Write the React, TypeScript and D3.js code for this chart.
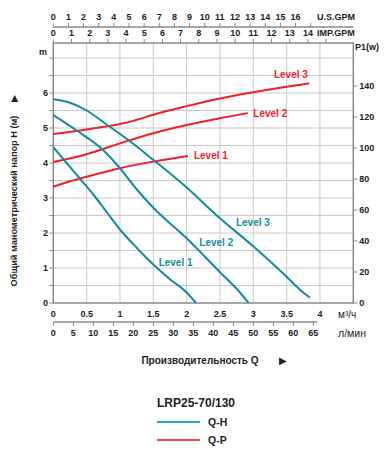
import React from "react";
import * as d3 from "d3";

// Flow Q in m³/h, head H in m
const qhLevel1: [number, number][] = [[0, 4.45], [0.2, 4.0], [0.4, 3.55], [0.6, 3.1], [0.8, 2.6], [1.0, 2.1], [1.25, 1.58], [1.5, 1.1], [1.75, 0.68], [2.0, 0.3], [2.14, 0]];
const qhLevel2: [number, number][] = [[0, 5.37], [0.35, 4.93], [0.73, 4.4], [1.0, 3.85], [1.25, 3.25], [1.5, 2.72], [2.0, 1.85], [2.5, 0.88], [2.8, 0.3], [2.93, 0]];
const qhLevel3: [number, number][] = [[0, 5.82], [0.25, 5.72], [0.5, 5.5], [0.8, 5.1], [1.15, 4.62], [1.5, 4.09], [2.0, 3.3], [2.5, 2.42], [3.0, 1.62], [3.5, 0.75], [3.7, 0.38], [3.85, 0.15]];
// Flow Q in m³/h, power P1 in W
const qpLevel1: [number, number][] = [[0, 75], [0.25, 78.5], [0.5, 81.5], [1.0, 87], [1.5, 91.2], [2.02, 94.8]];
const qpLevel2: [number, number][] = [[0, 91], [0.5, 96], [1.0, 103], [1.5, 109.5], [2.0, 114.8], [2.5, 119.2], [2.92, 122.5]];
const qpLevel3: [number, number][] = [[0, 109], [0.5, 112], [1.0, 115.5], [1.2, 117.5], [1.5, 121.5], [2.0, 127], [2.5, 132], [3.0, 136], [3.5, 139.5], [3.84, 141.7]];

const qTicks = [0, 0.5, 1, 1.5, 2, 2.5, 3, 3.5, 4];
const lminTicks = [0, 5, 10, 15, 20, 25, 30, 35, 40, 45, 50, 55, 60, 65];
const usGpmTicks = [0, 1, 2, 3, 4, 5, 6, 7, 8, 9, 10, 11, 12, 13, 14, 15, 16, 17];
const impGpmTicks = [0, 1, 2, 3, 4, 5, 6, 7, 8, 9, 10, 11, 12, 13, 14, 15];
const hTicks = [0, 1, 2, 3, 4, 5, 6];
const hGrid = [0.5, 1, 1.5, 2, 2.5, 3, 3.5, 4, 4.5, 5, 5.5, 6, 6.5, 7];
const pTicks = [0, 20, 40, 60, 80, 100, 120, 140];

const levelNames = ["Level 1", "Level 2", "Level 3"];
// label anchor positions (Q, value)
const qhLabelPos: [number, number][] = [[1.58, 1.17], [2.19, 1.73], [2.74, 2.31]];
const qpLabelPos: [number, number][] = [[2.11, 95], [3.0, 122.4], [3.31, 147.7]];

const US_GPM = 0.22712; // m³/h
const IMP_GPM = 0.27277; // m³/h
const L_MIN = 0.06; // m³/h

const TEAL = "#138c9e";
const RED = "#f41c28";
const FONT = "'Liberation Sans', Arial, sans-serif";
const TXT = "#222";

export default function App() {
  const L = 53.3, R = 353.3, T = 43, B = 303;
  const x = d3.scaleLinear().domain([0, 4.5]).range([L, R]);
  const yH = d3.scaleLinear().domain([0, (B - T) / 35]).range([B, T]);
  const yP = d3.scaleLinear().domain([0, (B - T) / 1.55]).range([B, T]);

  const lineH = d3.line<[number, number]>().x(d => x(d[0])).y(d => yH(d[1])).curve(d3.curveMonotoneX);
  const lineP = d3.line<[number, number]>().x(d => x(d[0])).y(d => yP(d[1])).curve(d3.curveMonotoneX);

  const qh = [qhLevel1, qhLevel2, qhLevel3];
  const qp = [qpLevel1, qpLevel2, qpLevel3];
  const usY = 27;
  const lminY = 322;

  return (
    <svg width={392} height={450} style={{ position: "absolute", left: 0, top: 0, background: "#fff" }} fontFamily={FONT}>
      {/* grid */}
      {qTicks.filter(q => q > 0).map(q => (
        <line key={"vg" + q} x1={x(q)} x2={x(q)} y1={T} y2={B} stroke="#c9c9c9" strokeWidth={1} />
      ))}
      {hGrid.map(h => (
        <line key={"hg" + h} x1={L} x2={R} y1={yH(h)} y2={yH(h)} stroke="#c9c9c9" strokeWidth={1} />
      ))}
      {/* frame */}
      <rect x={L} y={T} width={R - L} height={B - T} fill="none" stroke="#8a8a8a" strokeWidth={1.5} />

      {/* left axis ticks */}
      {[0, ...hGrid].map(h => (
        <line key={"lt" + h} x1={L - 4} x2={L} y1={yH(h)} y2={yH(h)} stroke="#8a8a8a" strokeWidth={1} />
      ))}
      {hTicks.map(h => (
        <text key={"ll" + h} x={48} y={yH(h)} dy="0.35em" textAnchor="end" fontSize={9} fontWeight="bold" fill={TXT}>{h}</text>
      ))}
      <text x={43} y={52} dy="0.35em" textAnchor="middle" fontSize={9} fontWeight="bold" fill={TXT}>m</text>

      {/* right axis */}
      {pTicks.map(p => (
        <g key={"rp" + p}>
          <line x1={R} x2={R + 4} y1={yP(p)} y2={yP(p)} stroke="#8a8a8a" strokeWidth={1} />
          <text x={R + 6} y={yP(p)} dy="0.35em" fontSize={9} fontWeight="bold" fill={TXT}>{p}</text>
        </g>
      ))}
      <text x={355} y={47} dy="0.35em" fontSize={9} fontWeight="bold" fill={TXT}>P1(w)</text>

      {/* bottom m3/h axis */}
      {qTicks.map(q => (
        <text key={"bq" + q} x={x(q)} y={314} dy="0.35em" textAnchor="middle" fontSize={9} fontWeight="bold" fill={TXT}>{q}</text>
      ))}
      <text x={338} y={314} dy="0.35em" fontSize={10} fill={TXT}>м³/ч</text>

      {/* l/min axis */}
      <line x1={x(0)} x2={x(66 * L_MIN)} y1={lminY} y2={lminY} stroke="#8a8a8a" strokeWidth={1.3} />
      {lminTicks.map(v => (
        <g key={"lm" + v}>
          <line x1={x(v * L_MIN)} x2={x(v * L_MIN)} y1={lminY} y2={lminY + 4} stroke="#8a8a8a" strokeWidth={1} />
          <text x={x(v * L_MIN)} y={333} dy="0.35em" textAnchor="middle" fontSize={9} fontWeight="bold" fill={TXT}>{v}</text>
        </g>
      ))}
      <text x={338} y={333} dy="0.35em" fontSize={10.5} fill={TXT}>л/мин</text>

      {/* US GPM axis */}
      <line x1={L} x2={R} y1={usY} y2={usY} stroke="#8a8a8a" strokeWidth={1.3} />
      {usGpmTicks.map(v => (
        <g key={"us" + v}>
          <line x1={x(v * US_GPM)} x2={x(v * US_GPM)} y1={usY - 4} y2={usY} stroke="#8a8a8a" strokeWidth={1} />
          {v <= 16 && (
            <text x={x(v * US_GPM)} y={17} dy="0.35em" textAnchor="middle" fontSize={9} fontWeight="bold" fill={TXT}>{v}</text>
          )}
        </g>
      ))}
      <text x={317} y={17} dy="0.35em" fontSize={9} fontWeight="bold" fill={TXT}>U.S.GPM</text>

      {/* IMP GPM axis */}
      {impGpmTicks.map(v => (
        <g key={"imp" + v}>
          <line x1={x(v * IMP_GPM)} x2={x(v * IMP_GPM)} y1={T - 4} y2={T} stroke="#8a8a8a" strokeWidth={1} />
          {v <= 14 && (
            <text x={x(v * IMP_GPM)} y={33} dy="0.35em" textAnchor="middle" fontSize={9} fontWeight="bold" fill={TXT}>{v}</text>
          )}
        </g>
      ))}
      <text x={317} y={33} dy="0.35em" fontSize={9} fontWeight="bold" fill={TXT}>IMP.GPM</text>

      {/* curves */}
      {qp.map((d, i) => (
        <path key={"qp" + i} d={lineP(d) || ""} fill="none" stroke={RED} strokeWidth={2} />
      ))}
      {qh.map((d, i) => (
        <path key={"qh" + i} d={lineH(d) || ""} fill="none" stroke={TEAL} strokeWidth={2} />
      ))}

      {/* level labels */}
      {levelNames.map((n, i) => (
        <text key={"lp" + i} x={x(qpLabelPos[i][0])} y={yP(qpLabelPos[i][1])} dy="0.35em" fontSize={10} fontWeight="bold" fill={RED}>{n}</text>
      ))}
      {levelNames.map((n, i) => (
        <text key={"lh" + i} x={x(qhLabelPos[i][0])} y={yH(qhLabelPos[i][1])} dy="0.35em" fontSize={10} fontWeight="bold" fill={TEAL}>{n}</text>
      ))}

      {/* axis titles */}
      <text transform="translate(14,201) rotate(-90)" textAnchor="middle" dy="0.35em" fontSize={9.2} fontWeight="bold" fill={TXT}>Общий манометрический напор H (м)</text>
      <text transform="translate(14,98) rotate(-90)" textAnchor="middle" dy="0.35em" fontSize={9} fill={TXT}>▶</text>
      <text x={200} y={360} dy="0.35em" textAnchor="middle" fontSize={10} fontWeight="bold" fill={TXT}>Производительность Q</text>
      <text x={283} y={360} dy="0.35em" textAnchor="middle" fontSize={10} fill={TXT}>▶</text>

      {/* legend */}
      <text x={157} y={403} dy="0.35em" fontSize={12} fontWeight="bold" fill={TXT}>LRP25-70/130</text>
      <line x1={157} x2={200} y1={422} y2={422} stroke="#22a8d2" strokeWidth={2} />
      <text x={208} y={422} dy="0.35em" fontSize={10.5} fontWeight="bold" fill={TXT}>Q-H</text>
      <line x1={157} x2={200} y1={440} y2={440} stroke="#f24848" strokeWidth={2} />
      <text x={208} y={440} dy="0.35em" fontSize={10.5} fontWeight="bold" fill={TXT}>Q-P</text>
    </svg>
  );
}
